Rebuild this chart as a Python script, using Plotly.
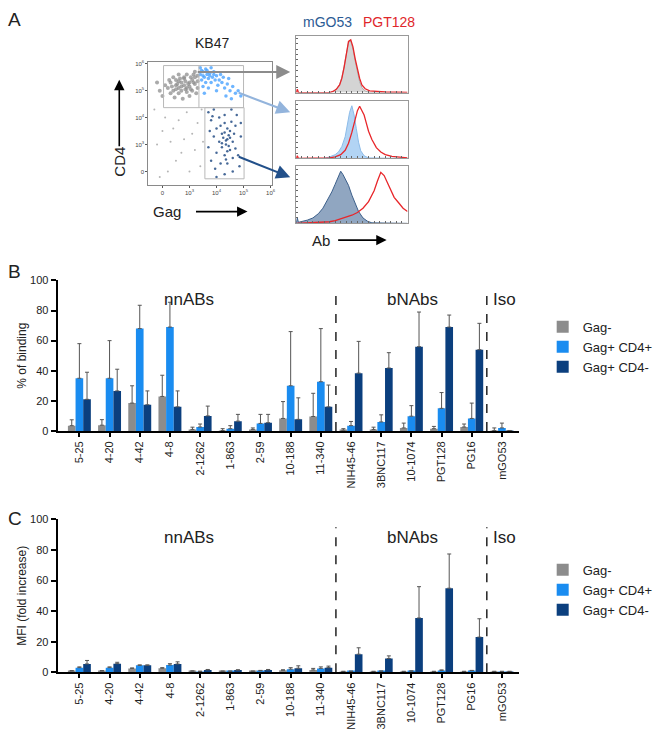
import plotly.graph_objects as go

W, H = 660, 734
FONT = "Liberation Sans, Arial, Helvetica, sans-serif"

# ---------------- Data: panels B and C ----------------
categories = ['5-25', '4-20', '4-42', '4-8', '2-1262', '1-863', '2-59', '10-188', '11-340',
              'NIH45-46', '3BNC117', '10-1074', 'PGT128', 'PG16', 'mGO53']
series_names = ['Gag-', 'Gag+ CD4+', 'Gag+ CD4-']
series_colors = ['#8c8c8c', '#1a8cf0', '#0b3f7e']

binding_gagneg = [3.5, 3.8, 18.5, 22.9, 1.0, 0.3, 1.0, 8.3, 9.6, 0.5, 1.0, 2.0, 1.5, 2.6, 0.3]
binding_gagneg_sd = [3.9, 3.7, 11.5, 14.1, 1.5, 1.2, 1.0, 11.2, 15.4, 1.0, 1.5, 3.2, 1.5, 2.0, 1.7]
binding_cd4pos = [35, 35, 68, 69, 2.6, 1.5, 5.0, 30, 32.7, 3.5, 6.0, 9.8, 15, 8.3, 2.0]
binding_cd4pos_sd = [23, 25, 15.5, 16.5, 2.0, 2.0, 6.0, 36, 35.3, 2.8, 4.7, 7.0, 10.5, 10.2, 3.2]
binding_cd4neg = [21, 26.6, 17.4, 16, 10, 6.5, 5.5, 7.7, 16, 38.4, 41.8, 56, 69, 54, 0.3]
binding_cd4neg_sd = [18, 14.4, 9.2, 10.6, 6.5, 4.5, 5.5, 14.3, 14.5, 21.1, 10.2, 23, 8, 17.5, 0]

mfi_gagneg = [0.8, 0.8, 2.5, 2.6, 0.7, 0.6, 0.6, 1.3, 1.5, 0.5, 0.5, 0.5, 0.5, 0.5, 0.5]
mfi_gagneg_sd = [0.3, 0.3, 0.3, 0.4, 0.2, 0.2, 0.2, 0.3, 1.0, 0.1, 0.1, 0.1, 0.1, 0.1, 0.1]
mfi_cd4pos = [3.0, 3.0, 4.5, 4.7, 0.5, 0.6, 0.9, 2.0, 2.5, 0.6, 0.7, 0.7, 1.2, 1.0, 0.5]
mfi_cd4pos_sd = [0.5, 0.5, 0.3, 0.9, 0.2, 0.2, 0.3, 1.0, 1.0, 0.1, 0.1, 0.2, 0.3, 0.2, 0.1]
mfi_cd4neg = [5.4, 5.6, 4.5, 5.4, 1.5, 1.4, 1.5, 2.6, 3.0, 11.8, 9.0, 35.5, 55, 23, 0.5]
mfi_cd4neg_sd = [2.3, 0.9, 0.3, 1.4, 0.3, 0.2, 0.3, 1.6, 1.0, 4.2, 1.7, 20.5, 22.4, 12, 0.1]

group_labels = ['nnABs', 'bNAbs', 'Iso']
group_separators_after = ['11-340', 'PG16']
y_ticks_bc = [0, 20, 40, 60, 80, 100]

# ---------------- Data: panel A ----------------
decade_ticks = [0, 1, 2, 3, 4]
decade_labels = ['0', '10<sup>3</sup>', '10<sup>4</sup>', '10<sup>5</sup>', '10<sup>6</sup>']

gagneg_x = [0.2, 0.3, 0.4, 0.5, 0.5, 0.6, 0.6, 0.7, 0.7, 0.8, 0.8, 0.9, 0.9, 1.0, 1.0, 1.1, 1.1, 1.2, 1.2, 1.3,
            1.3, 0.4, 0.3, 0.1, -0.1, -0.2, 0.0, 0.6, 0.9, 1.2, 1.0, 0.75, 0.45, 1.25, 1.15, 0.85, 0.55, 0.35, 1.05, 0.65,
            0.95, 0.7, 1.15, 0.85, 0.5, 1.3, 0.25, 1.05, 0.8, 0.6]
gagneg_y = [3.1, 3.3, 3.0, 3.2, 3.4, 2.9, 3.1, 3.3, 3.0, 3.2, 3.45, 3.1, 2.95, 3.3, 3.15, 3.4, 3.0, 3.25, 3.5, 3.1,
            3.35, 3.5, 2.9, 3.2, 3.0, 3.3, 2.8, 3.6, 3.6, 3.7, 2.8, 2.7, 2.75, 2.9, 3.6, 3.35, 3.25, 3.15, 3.5, 3.45,
            3.25, 3.15, 3.3, 3.05, 3.05, 3.55, 3.4, 3.05, 3.5, 3.35]
cd4pos_x = [1.4, 1.45, 1.5, 1.55, 1.6, 1.6, 1.65, 1.7, 1.75, 1.8, 1.85, 1.9, 1.95, 2.0, 2.05, 2.1, 2.2, 2.25, 2.3,
            2.4, 2.5, 2.6, 2.7, 2.8, 2.9, 1.5, 1.7, 1.4, 2.0, 2.35, 2.55, 1.55, 2.15, 1.8, 2.45,
            1.45, 1.65, 1.75, 1.9, 1.5]
cd4pos_y = [3.6, 3.4, 3.7, 3.5, 3.3, 3.8, 3.6, 3.45, 3.65, 3.3, 3.5, 3.7, 3.4, 3.55, 3.2, 3.4, 3.3, 3.5, 3.1,
            3.25, 3.0, 3.15, 2.9, 3.0, 2.8, 3.15, 3.1, 3.85, 3.0, 2.8, 2.7, 2.9, 3.6, 3.85, 3.45,
            3.75, 3.75, 3.55, 3.6, 3.55]
cd4neg_x = [1.7, 1.8, 1.9, 2.0, 2.1, 2.2, 2.3, 2.4, 2.35, 2.5, 2.6, 2.7, 2.2, 2.3, 2.4, 2.5, 2.6, 2.45, 2.1, 2.0,
            1.9, 1.8, 1.7, 2.8, 2.9, 2.75, 2.55, 2.3, 2.15, 1.95, 2.3, 2.6, 2.85, 2.0, 1.75, 2.65, 2.4, 2.25, 2.45,
            2.55, 2.35, 2.7, 1.85, 2.9, 2.15, 2.35, 2.5, 2.2, 2.4, 2.3]
cd4neg_y = [2.2, 1.9, 2.3, 1.6, 2.0, 1.4, 1.8, 1.2, 1.0, 1.5, 1.1, 1.7, 0.9, 0.6, 0.3, 0.8, 0.5, 1.35, 1.1, 0.7,
            1.3, 0.4, 0.9, 0.6, 1.3, 2.1, 2.3, 2.1, 1.7, 0.1, -0.1, 0.0, 0.2, -0.2, 1.5, 1.4, 1.6, 1.25, 0.95,
            1.85, 0.45, 0.85, 2.05, 1.8, 0.3, 1.15, 1.25, 1.05, 0.75, 1.45]
other_x = [-0.3, 0.1, 0.4, 0.8, 1.2, 0.5, -0.2, 0.9, 1.3, 0.2, 1.4, 0.6, 1.1, -0.1, 0.3, 1.5, 0.7, 1.0, 1.45, 0.0]
other_y = [2.3, 2.0, 1.6, 1.2, 0.8, 0.4, 1.0, 2.2, 1.8, 0.0, 0.2, 1.9, 1.4, -0.2, 1.1, 1.1, 0.7, 0.0, 2.3, 1.5]

gate_cd4pos = [0.04, 3.0, 2.37, 3.93]      # x0, x1, y0, y1 (decades)
gate_split_x = 1.35
gate_cd4neg = [1.57, 3.02, -0.27, 2.37]

# Histograms (Ab intensity, % of max)
h1_mgo53_x = [0, 30, 33, 36, 39, 41, 43, 45, 47, 49, 51, 53, 55, 57, 59, 62, 66, 100]
h1_mgo53_y = [0, 0, 2, 6, 15, 28, 48, 72, 92, 95, 80, 58, 36, 20, 9, 3, 0, 0]
h1_pgt_x = [0, 1, 2, 30, 33, 36, 39, 41, 43, 45, 47, 49, 51, 53, 55, 57, 59, 62, 66, 72, 80, 100]
h1_pgt_y = [0, 6, 0, 0, 2, 6, 14, 26, 46, 70, 94, 97, 84, 62, 42, 26, 14, 7, 3, 2, 1, 0.5]
h2_mgo53_x = [0, 25, 30, 35, 38, 41, 44, 46, 48, 50, 52, 54, 56, 58, 61, 65, 100]
h2_mgo53_y = [0, 0, 3, 7, 12, 22, 40, 60, 85, 97, 80, 55, 30, 14, 5, 1, 0]
h2_pgt_x = [0, 1, 2, 30, 35, 40, 44, 47, 50, 53, 55, 57, 59, 61, 63, 65, 68, 72, 76, 80, 86, 92, 100]
h2_pgt_y = [0, 5, 0, 1, 3, 7, 15, 28, 48, 72, 88, 96, 88, 80, 65, 50, 35, 20, 12, 7, 4, 3, 1]
h3_mgo53_x = [0, 1, 2, 5, 10, 15, 20, 24, 28, 32, 35, 38, 40, 42, 44, 47, 50, 53, 56, 60, 64, 68, 100]
h3_mgo53_y = [0, 10, 2, 3, 6, 10, 18, 28, 42, 58, 72, 88, 96, 90, 82, 70, 52, 35, 22, 10, 4, 1, 0]
h3_pgt_x = [0, 10, 20, 30, 35, 40, 45, 50, 55, 60, 65, 70, 73, 76, 79, 82, 85, 88, 92, 96, 100]
h3_pgt_y = [0, 1, 2, 3, 5, 8, 11, 15, 20, 28, 40, 60, 78, 94, 88, 75, 60, 48, 38, 28, 22]


def px_x(p):
    return p / W


def px_y(p):
    return 1 - p / H


fig = go.Figure()

# ---------------- Panels B and C bars ----------------
panels = [
    ('x', 'y', 'legend', [binding_gagneg, binding_cd4pos, binding_cd4neg],
     [binding_gagneg_sd, binding_cd4pos_sd, binding_cd4neg_sd]),
    ('x2', 'y2', 'legend2', [mfi_gagneg, mfi_cd4pos, mfi_cd4neg],
     [mfi_gagneg_sd, mfi_cd4pos_sd, mfi_cd4neg_sd]),
]
for xa, ya, lg, vals, sds in panels:
    for name, color, v, sd in zip(series_names, series_colors, vals, sds):
        fig.add_trace(go.Bar(
            x=categories, y=v, name=name, marker=dict(color=color, line=dict(width=0)),
            error_y=dict(type='data', array=sd, arrayminus=[0] * len(sd), symmetric=False,
                         color='#555555', thickness=1, width=2),
            xaxis=xa, yaxis=ya, legend=lg, offsetgroup=name,
        ))

# ---------------- Panel A: dot plot ----------------
fig.add_trace(go.Scatter(x=other_x, y=other_y, mode='markers', xaxis='x3', yaxis='y3',
                         marker=dict(size=2, color='#b5b5b5'), showlegend=False, hoverinfo='skip'))
fig.add_trace(go.Scatter(x=gagneg_x, y=gagneg_y, mode='markers', xaxis='x3', yaxis='y3',
                         marker=dict(size=4, color='#8e8e8e', opacity=0.75), showlegend=False, hoverinfo='skip'))
fig.add_trace(go.Scatter(x=cd4pos_x, y=cd4pos_y, mode='markers', xaxis='x3', yaxis='y3',
                         marker=dict(size=3.5, color='#4aa3ff', opacity=0.8), showlegend=False, hoverinfo='skip'))
fig.add_trace(go.Scatter(x=cd4neg_x, y=cd4neg_y, mode='markers', xaxis='x3', yaxis='y3',
                         marker=dict(size=2.5, color='#274f86', opacity=0.85), showlegend=False, hoverinfo='skip'))

# ---------------- Panel A: histograms ----------------
hists = [
    ('x4', 'y4', h1_mgo53_x, h1_mgo53_y, 'rgba(205,205,205,0.85)', '#a8a8a8', h1_pgt_x, h1_pgt_y),
    ('x5', 'y5', h2_mgo53_x, h2_mgo53_y, 'rgba(165,205,242,0.85)', '#8cbbe8', h2_pgt_x, h2_pgt_y),
    ('x6', 'y6', h3_mgo53_x, h3_mgo53_y, 'rgba(125,150,182,0.85)', '#3c5f8a', h3_pgt_x, h3_pgt_y),
]
for xa, ya, mx, my, fillc, linec, rx, ry in hists:
    fig.add_trace(go.Scatter(x=mx, y=my, mode='lines', fill='tozeroy', fillcolor=fillc,
                             line=dict(color=linec, width=1), xaxis=xa, yaxis=ya,
                             showlegend=False, hoverinfo='skip'))
    fig.add_trace(go.Scatter(x=rx, y=ry, mode='lines', line=dict(color='#e8262a', width=1.3),
                             xaxis=xa, yaxis=ya, showlegend=False, hoverinfo='skip'))

# ---------------- Layout ----------------
bar_x_dom = [px_x(58), px_x(522)]
cat_range = [-0.72, len(categories) - 1 + 0.56]
axis_common = dict(showline=True, linecolor='black', linewidth=2, ticks='outside', tickwidth=2,
                   tickcolor='black', showgrid=False, zeroline=False,
                   tickfont=dict(size=11, color='#222', family=FONT))

layout = dict(
    width=W, height=H, autosize=False,
    margin=dict(l=0, r=0, t=0, b=0),
    paper_bgcolor='white', plot_bgcolor='white',
    font=dict(family=FONT, color='#222'),
    barmode='group', bargap=0.24, bargroupgap=0,
    xaxis=dict(domain=bar_x_dom, anchor='y', range=cat_range, tickangle=-90, ticklen=4,
               categoryorder='array', categoryarray=categories, **axis_common),
    yaxis=dict(domain=[px_y(432), px_y(279)], anchor='x', range=[0, 100], tickvals=y_ticks_bc,
               ticklen=5, title=dict(text='% of binding', font=dict(size=12), standoff=1),
               **axis_common),
    xaxis2=dict(domain=bar_x_dom, anchor='y2', range=cat_range, tickangle=-90, ticklen=4,
                categoryorder='array', categoryarray=categories, **axis_common),
    yaxis2=dict(domain=[px_y(677.3), px_y(522)], anchor='x2', range=[0, 100], tickvals=y_ticks_bc,
                ticklen=5, title=dict(text='MFI (fold increase)', font=dict(size=12), standoff=1),
                **axis_common),
    legend=dict(x=px_x(546), y=px_y(311), xanchor='left', yanchor='top',
                font=dict(size=13, family=FONT), bgcolor='rgba(0,0,0,0)', tracegroupgap=2),
    legend2=dict(x=px_x(546), y=px_y(558), xanchor='left', yanchor='top',
                 font=dict(size=13, family=FONT), bgcolor='rgba(0,0,0,0)', tracegroupgap=2),
)

# Dot plot axes
dot_common = dict(showline=True, linecolor='#8a8a8a', linewidth=1, mirror=True, ticks='outside',
                  ticklen=2, tickcolor='#555', showgrid=False, zeroline=False,
                  tickvals=decade_ticks, ticktext=decade_labels,
                  tickfont=dict(size=6, color='#444', family=FONT))
layout['xaxis3'] = dict(domain=[px_x(149.3), px_x(273.3)], anchor='y3', range=[-0.52, 4.04], **dot_common)
layout['yaxis3'] = dict(domain=[px_y(181.7), px_y(57.3)], anchor='x3', range=[-0.49, 4.05], **dot_common)

hist_boxes = [(30, 88), (97, 155), (163, 221)]
for i, (top, bot) in enumerate(hist_boxes):
    n = 4 + i
    layout[f'xaxis{n}'] = dict(domain=[px_x(298), px_x(410)], anchor=f'y{n}', range=[0, 100],
                               showline=True, linecolor='#999', linewidth=1, mirror=True,
                               ticks='inside', ticklen=2, dtick=5, tickcolor='#666',
                               showticklabels=False, showgrid=False, zeroline=False)
    layout[f'yaxis{n}'] = dict(domain=[px_y(bot), px_y(top)], anchor=f'x{n}', range=[0, 105],
                               showline=True, linecolor='#999', linewidth=1, mirror=True,
                               ticks='inside', ticklen=2, dtick=10, tickcolor='#666',
                               showticklabels=False, showgrid=False, zeroline=False)

fig.update_layout(**layout)

# Gates
x0, x1, y0, y1 = gate_cd4pos
fig.add_shape(type='rect', xref='x3', yref='y3', x0=x0, x1=x1, y0=y0, y1=y1,
              line=dict(color='#b8b8b8', width=1))
fig.add_shape(type='line', xref='x3', yref='y3', x0=gate_split_x, x1=gate_split_x, y0=y0, y1=y1,
              line=dict(color='#b8b8b8', width=1))
x0, x1, y0, y1 = gate_cd4neg
fig.add_shape(type='rect', xref='x3', yref='y3', x0=x0, x1=x1, y0=y0, y1=y1,
              line=dict(color='#b8b8b8', width=1))

# Dashed separators
for sep in group_separators_after:
    xpos = categories.index(sep) + 0.5
    for xa, ytop, ybot in [('x', 288, 432), ('x2', 530, 677.3)]:
        fig.add_shape(type='line', xref=xa, yref='paper', x0=xpos, x1=xpos,
                      y0=px_y(ybot), y1=px_y(ytop), line=dict(color='black', width=1.3, dash='dash'))

annotations = []


def text(x, y, s, size=12, color='#222', **kw):
    annotations.append(dict(x=px_x(x), y=px_y(y), xref='paper', yref='paper', text=s, showarrow=False,
                            xanchor='center', yanchor='middle',
                            font=dict(size=size, color=color, family=FONT), **kw))


# panel letters
text(15, 14, 'A', 19)
text(15, 270, 'B', 19)
text(15, 521, 'C', 19)

# group labels
for yy in (298, 540):
    text(190, yy, group_labels[0], 17)
    text(415, yy, group_labels[1], 17)
    text(508, yy, group_labels[2], 17)

# panel A labels
text(213, 38, 'KB47', 14)
text(329, 16, 'mGO53', 14, '#2c5b94')
text(391, 16, 'PGT128', 14, '#e0262a')
text(120, 158, 'CD4', 15, textangle=-90)
text(168, 209, 'Gag', 15)
text(323, 238, 'Ab', 15)


def arrow(hx, hy, tx, ty, color, width=1.6, size=1.3):
    annotations.append(dict(x=px_x(hx), y=px_y(hy), xref='paper', yref='paper', showarrow=True,
                            ax=tx - hx, ay=ty - hy, axref='pixel', ayref='pixel', text='',
                            arrowhead=2, arrowsize=size, arrowwidth=width, arrowcolor=color))


arrow(120, 75, 120, 143, 'black')
arrow(249, 209, 196, 209, 'black')
arrow(389, 238, 339, 238, 'black')
arrow(292, 67, 198, 67, '#8c8c8c', 2, 1.4)
arrow(292, 108, 239, 88, '#93b4dc', 2, 1.4)
arrow(292, 174, 239, 153, '#22508a', 2, 1.4)

fig.update_layout(annotations=annotations)

fig.write_html("out.html", config={'displayModeBar': False},
               post_script="document.body.style.margin='0';")
